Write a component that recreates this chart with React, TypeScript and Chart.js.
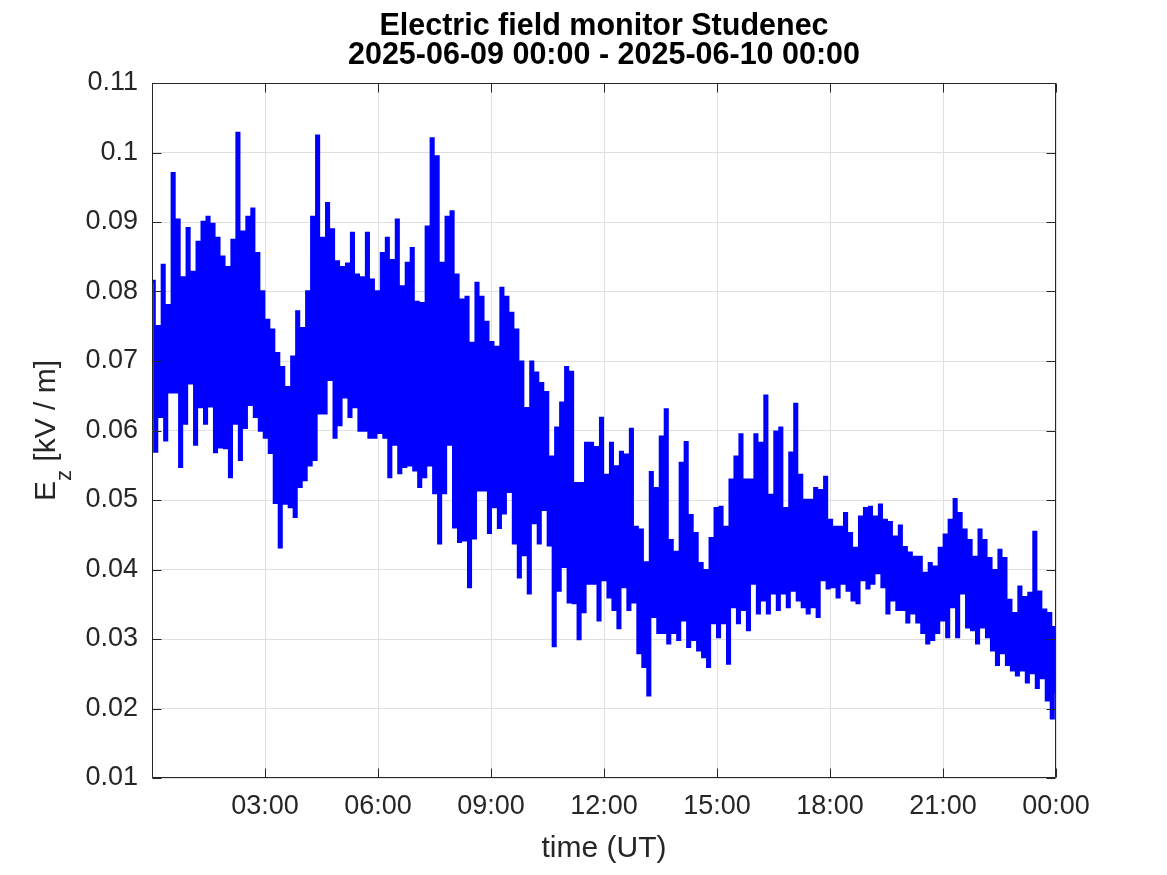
import React, { useEffect, useRef } from 'react';
import { Chart, registerables } from 'chart.js';

Chart.register(...registerables);

const titleLines = ['Electric field monitor Studenec', '2025-06-09 00:00 - 2025-06-10 00:00'];
const xAxisLabel = 'time (UT)';
const yLabelMain = 'E';
const yLabelSub = 'z';
const yLabelRest = ' [kV / m]';

const xTickMinutes = [0, 180, 360, 540, 720, 900, 1080, 1260, 1440];
const xTickLabels = ['', '03:00', '06:00', '09:00', '12:00', '15:00', '18:00', '21:00', '00:00'];
const yTickValues = [0.01, 0.02, 0.03, 0.04, 0.05, 0.06, 0.07, 0.08, 0.09, 0.1, 0.11];
const yTickLabels = ['0.01', '0.02', '0.03', '0.04', '0.05', '0.06', '0.07', '0.08', '0.09', '0.1', '0.11'];

// Ez samples (kV/m), 00:00 - 05:50 UT
const ezSegA = [
  0.0815, 0.057, 0.075, 0.062,
  0.0838, 0.0586, 0.078, 0.0655,
  0.097, 0.0655, 0.0903, 0.0548,
  0.082, 0.061, 0.0891, 0.0668,
  0.0828, 0.058, 0.0871, 0.0634,
  0.09, 0.061, 0.0907, 0.0635,
  0.0897, 0.0569, 0.0877, 0.0576,
  0.085, 0.0575, 0.0835, 0.0533,
  0.0874, 0.061, 0.1028, 0.0558,
  0.0886, 0.0604, 0.0907, 0.0637,
  0.0919, 0.062, 0.0855, 0.06,
  0.08, 0.059, 0.0759, 0.0568,
  0.0745, 0.0496, 0.0711, 0.0432,
  0.0691, 0.0495, 0.0662, 0.049,
  0.0706, 0.0476, 0.0771, 0.0519,
  0.0747, 0.0529, 0.08, 0.055,
  0.0907, 0.0558, 0.1024, 0.0625,
  0.0877, 0.0625, 0.0927, 0.0673,
  0.0889, 0.059, 0.0843, 0.0608,
  0.0835, 0.0648, 0.084, 0.062,
  0.0884, 0.0634, 0.0824, 0.06,
  0.082, 0.06, 0.0884, 0.059,
  0.0817, 0.059, 0.08, 0.0597,
];

// 06:00 - 11:50 UT
const ezSegB = [
  0.0855, 0.059, 0.0877, 0.0533,
  0.0845, 0.058, 0.0903, 0.0539,
  0.0807, 0.0548, 0.0841, 0.055,
  0.0862, 0.0543, 0.0785, 0.0519,
  0.0783, 0.0533, 0.0893, 0.055,
  0.102, 0.051, 0.0994, 0.0438,
  0.0841, 0.051, 0.0907, 0.058,
  0.0915, 0.0461, 0.0824, 0.044,
  0.0788, 0.0442, 0.0792, 0.0375,
  0.0726, 0.0445, 0.0812, 0.0514,
  0.0792, 0.0514, 0.0756, 0.0453,
  0.0727, 0.049, 0.072, 0.046,
  0.0805, 0.0481, 0.0792, 0.0512,
  0.0769, 0.0438, 0.0745, 0.0389,
  0.0699, 0.0421, 0.0632, 0.0366,
  0.0699, 0.0467, 0.0683, 0.0438,
  0.0668, 0.0486, 0.0655, 0.0435,
  0.0562, 0.029, 0.0604, 0.037,
  0.064, 0.0404, 0.0691, 0.0353,
  0.0684, 0.0352, 0.0524, 0.03,
  0.0524, 0.0339, 0.0582, 0.038,
  0.0582, 0.038, 0.0576, 0.0327,
  0.0618, 0.0385, 0.0536, 0.036,
];

// 12:00 - 17:50 UT
const ezSegC = [
  0.0582, 0.0342, 0.0548, 0.0316,
  0.0569, 0.0375, 0.0565, 0.0342,
  0.0602, 0.0353, 0.0461, 0.028,
  0.0457, 0.026, 0.041, 0.0219,
  0.054, 0.0332, 0.0517, 0.0309,
  0.0591, 0.0309, 0.063, 0.0294,
  0.0442, 0.0309, 0.0425, 0.0299,
  0.0553, 0.0327, 0.0583, 0.0289,
  0.0478, 0.0299, 0.0452, 0.0284,
  0.0409, 0.0274, 0.0399, 0.026,
  0.0445, 0.0323, 0.0488, 0.0303,
  0.049, 0.0323, 0.0461, 0.0265,
  0.0529, 0.0346, 0.0562, 0.0323,
  0.0594, 0.0342, 0.0529, 0.0313,
  0.0529, 0.038, 0.0594, 0.0337,
  0.0582, 0.0356, 0.065, 0.0337,
  0.0507, 0.0366, 0.0598, 0.0342,
  0.0604, 0.0366, 0.0488, 0.0346,
  0.0568, 0.037, 0.0638, 0.0356,
  0.0536, 0.0346, 0.05, 0.0337,
  0.05, 0.0346, 0.0517, 0.0332,
  0.0514, 0.0385, 0.0533, 0.0373,
  0.0471, 0.0375, 0.0461, 0.036,
];

// 18:00 - 24:00 UT
const ezSegD = [
  0.0461, 0.038, 0.0481, 0.037,
  0.0452, 0.0356, 0.0431, 0.0352,
  0.0476, 0.0385, 0.0488, 0.0373,
  0.049, 0.038, 0.0476, 0.0395,
  0.0493, 0.0375, 0.0471, 0.0337,
  0.0468, 0.0356, 0.0447, 0.0342,
  0.0463, 0.0342, 0.0432, 0.0324,
  0.0424, 0.0337, 0.0418, 0.0324,
  0.0418, 0.0309, 0.0395, 0.0294,
  0.0409, 0.0299, 0.0404, 0.0309,
  0.0431, 0.0327, 0.045, 0.0303,
  0.0471, 0.0346, 0.0501, 0.0303,
  0.0481, 0.0366, 0.0457, 0.0317,
  0.0442, 0.0313, 0.0418, 0.0294,
  0.0457, 0.0317, 0.0442, 0.0303,
  0.0416, 0.0284, 0.0399, 0.0263,
  0.0428, 0.028, 0.0416, 0.0263,
  0.0356, 0.0255, 0.0337, 0.0248,
  0.0375, 0.0255, 0.036, 0.0238,
  0.0366, 0.0251, 0.0454, 0.023,
  0.0368, 0.0244, 0.0342, 0.0212,
  0.0337, 0.0186, 0.0317, 0.0222,
];

const FONT = '"Liberation Sans", Arial, Helvetica, sans-serif';
const AXIS_COLOR = '#262626';

const overlayPlugin = {
  id: 'matlabOverlay',
  afterDraw(chart: any) {
    const ctx = chart.ctx as CanvasRenderingContext2D;
    const { left, right, top, bottom } = chart.chartArea;
    const xs = chart.scales.x;
    const ys = chart.scales.y;
    ctx.save();
    ctx.strokeStyle = AXIS_COLOR;
    ctx.lineWidth = 1;
    const L = Math.round(left) + 0.5;
    const R = Math.round(right) - 0.5;
    const T = Math.round(top) + 0.5;
    const B = Math.round(bottom) - 0.5;
    ctx.beginPath();
    ctx.rect(L, T, R - L, B - T);
    const tl = 9;
    xTickMinutes.forEach((m) => {
      const px = Math.round(xs.getPixelForValue(m)) + 0.5;
      ctx.moveTo(px, B);
      ctx.lineTo(px, B - tl);
      ctx.moveTo(px, T);
      ctx.lineTo(px, T + tl);
    });
    yTickValues.forEach((v) => {
      const py = Math.round(ys.getPixelForValue(v)) + 0.5;
      ctx.moveTo(L, py);
      ctx.lineTo(L + tl, py);
      ctx.moveTo(R, py);
      ctx.lineTo(R - tl, py);
    });
    ctx.stroke();

    // title
    const cx = (left + right) / 2;
    ctx.fillStyle = '#000000';
    ctx.textAlign = 'center';
    ctx.textBaseline = 'alphabetic';
    ctx.font = `bold 30.5px ${FONT}`;
    ctx.fillText(titleLines[0], cx, 35);
    ctx.fillText(titleLines[1], cx, 64);

    // x label
    ctx.fillStyle = AXIS_COLOR;
    ctx.font = `30px ${FONT}`;
    ctx.fillText(xAxisLabel, cx, 857);

    // y label with subscript
    const cy = (top + bottom) / 2;
    ctx.translate(55, cy);
    ctx.rotate(-Math.PI / 2);
    ctx.textAlign = 'left';
    ctx.font = `30px ${FONT}`;
    const wMain = ctx.measureText(yLabelMain).width;
    const wRest = ctx.measureText(yLabelRest).width;
    ctx.font = `22px ${FONT}`;
    const wSub = ctx.measureText(yLabelSub).width;
    const total = wMain + wSub + wRest;
    let x0 = -total / 2;
    ctx.font = `30px ${FONT}`;
    ctx.fillText(yLabelMain, x0, 0);
    x0 += wMain;
    ctx.font = `22px ${FONT}`;
    ctx.fillText(yLabelSub, x0, 16);
    x0 += wSub;
    ctx.font = `30px ${FONT}`;
    ctx.fillText(yLabelRest, x0, 0);
    ctx.restore();
  },
};

export default function App() {
  const canvasRef = useRef<HTMLCanvasElement | null>(null);

  useEffect(() => {
    document.body.style.margin = '0';
    const canvas = canvasRef.current;
    if (!canvas) return;
    const ez = [...ezSegA, ...ezSegB, ...ezSegC, ...ezSegD];
    const n = ez.length;
    const points = ez.map((v, i) => ({ x: (i * 1440) / (n - 1), y: v }));

    const chart = new Chart(canvas, {
      type: 'line',
      data: {
        datasets: [
          {
            data: points,
            borderColor: '#0000ff',
            borderWidth: 2.6,
            pointRadius: 0,
            stepped: 'before',
            fill: false,
          },
        ],
      },
      options: {
        animation: false,
        responsive: false,
        devicePixelRatio: 1,
        events: [],
        layout: { padding: { top: 83, right: 111, left: 0, bottom: 0 } },
        plugins: {
          legend: { display: false },
          tooltip: { enabled: false },
          title: { display: false },
        },
        scales: {
          x: {
            type: 'linear',
            min: 0,
            max: 1440,
            afterBuildTicks: (s: any) => {
              s.ticks = xTickMinutes.map((v) => ({ value: v }));
            },
            afterFit: (s: any) => {
              s.height = 97;
            },
            border: { display: false },
            grid: { color: '#e0e0e0', lineWidth: 1, drawTicks: false },
            ticks: {
              autoSkip: false,
              maxRotation: 0,
              padding: 12,
              color: AXIS_COLOR,
              font: { family: FONT, size: 27 },
              callback: (v: any) => {
                const idx = xTickMinutes.indexOf(Number(v));
                return idx >= 0 ? xTickLabels[idx] : '';
              },
            },
          },
          y: {
            type: 'linear',
            min: 0.01,
            max: 0.11,
            afterBuildTicks: (s: any) => {
              s.ticks = yTickValues.map((v) => ({ value: v }));
            },
            afterFit: (s: any) => {
              s.width = 152;
            },
            border: { display: false },
            grid: { color: '#e0e0e0', lineWidth: 1, drawTicks: false },
            ticks: {
              autoSkip: false,
              padding: 14,
              color: AXIS_COLOR,
              font: { family: FONT, size: 27 },
              callback: (v: any) => {
                const idx = yTickValues.findIndex((t) => Math.abs(t - Number(v)) < 1e-9);
                return idx >= 0 ? yTickLabels[idx] : '';
              },
            },
          },
        },
      },
      plugins: [overlayPlugin],
    });
    return () => chart.destroy();
  }, []);

  return (
    <div style={{ width: 1167, height: 875, background: '#ffffff' }}>
      <canvas ref={canvasRef} width={1167} height={875} style={{ width: 1167, height: 875, display: 'block' }} />
    </div>
  );
}
